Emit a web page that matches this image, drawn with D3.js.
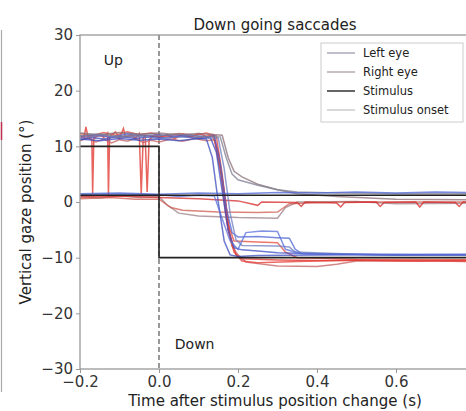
<!DOCTYPE html>
<html><head><meta charset="utf-8">
<script src="https://cdn.jsdelivr.net/npm/d3@7"></script>
<style>body{margin:0;background:#fff;} svg{display:block;font-family:"DejaVu Sans",sans-serif;}</style>
</head><body>
<svg id="c" width="466" height="411"></svg>
<script>
const xTicks = [-0.2, 0.0, 0.2, 0.4, 0.6];
const yTicks = [-30, -20, -10, 0, 10, 20, 30];
const legendLabels = ["Left eye", "Right eye", "Stimulus", "Stimulus onset"];
const annotations = [{t:-0.14, v:25.5, text:"Up"}, {t:0.04, v:-25.5, text:"Down"}];

// Stimulus traces [time s, position °]
const stimulusA = [[-0.2,10],[0,10],[0,-10],[0.8,-10]];
const stimulusB = [[-0.2,1.2],[0.8,1.2]];

// Left eye trials
const leftEye1 = [[-0.2,11.2],[-0.17,11.6],[-0.14,11.3],[-0.1,11.8],[-0.06,11.4],[-0.02,11.7],[0.02,11.5],[0.06,11.8],[0.1,11.4],[0.13,11.6],[0.145,9],[0.16,2],[0.175,-5],[0.19,-8.2],[0.21,-8.6],[0.25,-8.8],[0.3,-9.1],[0.4,-9.3],[0.5,-9.4],[0.6,-9.5],[0.7,-9.5],[0.8,-9.6]];
const leftEye2 = [[-0.2,11.8],[-0.16,12.1],[-0.12,11.7],[-0.08,12.2],[-0.04,11.9],[0,12.1],[0.04,11.8],[0.08,12.0],[0.12,11.7],[0.14,11.9],[0.155,7],[0.17,-1],[0.185,-5.5],[0.2,-6.3],[0.25,-6.2],[0.3,-6.4],[0.33,-6.5],[0.345,-8.5],[0.36,-9.2],[0.45,-9.4],[0.6,-9.5],[0.8,-9.5]];
const leftEye3 = [[-0.2,11.5],[-0.15,11.9],[-0.1,11.6],[-0.05,11.8],[0,11.4],[0.05,11.7],[0.1,11.5],[0.15,11.5],[0.165,6],[0.18,-2],[0.195,-6.8],[0.21,-7.8],[0.3,-7.9],[0.33,-8.1],[0.345,-9],[0.5,-9.4],[0.8,-9.6]];
const leftEye4 = [[-0.2,11.9],[-0.15,12.2],[-0.1,11.8],[-0.05,12.1],[0,11.9],[0.05,12.2],[0.1,11.8],[0.155,11.7],[0.17,8],[0.185,5],[0.2,4],[0.25,3],[0.3,2.2],[0.35,1.8],[0.45,1.6],[0.6,1.5],[0.8,1.5]];
const leftEye5 = [[-0.2,11.3],[-0.15,11.0],[-0.1,11.4],[-0.05,11.1],[0,11.3],[0.05,11.0],[0.1,11.4],[0.12,11.3],[0.135,8],[0.15,0],[0.165,-7],[0.18,-9.5],[0.2,-9.8],[0.25,-9.6],[0.4,-9.5],[0.8,-9.4]];
const leftEye6 = [[-0.2,1.3],[-0.1,1.4],[0,1.3],[0.05,1.0],[0.1,1.2],[0.14,1.1],[0.16,-3],[0.18,-7],[0.2,-8.5],[0.22,-5.5],[0.26,-5.2],[0.3,-5.3],[0.32,-8.5],[0.36,-9.3],[0.5,-9.4],[0.8,-9.5]];
const leftEye7 = [[-0.2,1.5],[-0.1,1.6],[0,1.4],[0.1,1.6],[0.2,1.5],[0.3,1.7],[0.4,1.6],[0.5,1.8],[0.6,1.6],[0.7,1.8],[0.8,1.7]];
const leftEyeTrials = [leftEye1, leftEye2, leftEye3, leftEye4, leftEye5, leftEye6, leftEye7];

// Right eye trials
const rightEye1 = [[-0.2,12],[-0.19,11.5],[-0.185,13.5],[-0.18,11.8],[-0.17,11.2],[-0.168,1.5],[-0.165,11.4],[-0.15,12.2],[-0.14,11.6],[-0.13,12.4],[-0.128,1.2],[-0.125,11.8],[-0.11,12.6],[-0.1,11.5],[-0.09,13.2],[-0.085,11.7],[-0.07,12.1],[-0.06,11.4],[-0.05,12.3],[-0.045,1.5],[-0.04,11.5],[-0.035,11.9],[-0.03,1.8],[-0.025,11.2],[-0.01,12.0],[0.0,11.6],[0.02,12.1],[0.04,11.4],[0.06,12.2],[0.08,11.7],[0.1,12.3],[0.12,11.8],[0.135,12.1],[0.15,9],[0.165,2],[0.18,-6],[0.195,-9.5],[0.21,-10.2],[0.25,-10.3],[0.3,-10.4],[0.4,-10.5],[0.5,-10.5],[0.6,-10.6],[0.7,-10.6],[0.8,-10.7]];
const rightEye2 = [[-0.2,11.0],[-0.18,11.5],[-0.16,10.8],[-0.14,11.3],[-0.12,10.6],[-0.1,11.2],[-0.08,10.9],[-0.06,11.4],[-0.04,10.7],[-0.02,11.1],[0,10.8],[0.03,11.3],[0.06,10.9],[0.09,11.4],[0.12,11.0],[0.14,11.2],[0.155,6],[0.17,-3],[0.185,-8],[0.2,-9.5],[0.22,-10.8],[0.3,-11.5],[0.4,-11.6],[0.45,-11.2],[0.5,-10.6],[0.6,-10.5],[0.8,-10.5]];
const rightEye3 = [[-0.2,12.3],[-0.17,11.9],[-0.14,12.5],[-0.11,12.0],[-0.08,12.6],[-0.05,12.1],[-0.02,12.4],[0.01,11.9],[0.05,12.3],[0.09,12.0],[0.12,12.4],[0.145,11.9],[0.16,5],[0.175,-4],[0.19,-7],[0.25,-7.2],[0.3,-7.3],[0.32,-9],[0.35,-10],[0.5,-10.3],[0.8,-10.4]];
const rightEye4 = [[-0.2,12.4],[-0.15,12.1],[-0.1,12.5],[-0.05,12.2],[0,12.4],[0.05,12.1],[0.1,12.3],[0.16,12],[0.175,8],[0.19,5.5],[0.21,4.5],[0.25,3.2],[0.3,2.2],[0.35,1.5],[0.45,1.0],[0.6,0.5],[0.8,0.4]];
const rightEye5 = [[-0.2,1.0],[-0.15,0.7],[-0.1,1.1],[-0.05,0.8],[0,1.0],[0.02,-0.5],[0.05,-2],[0.1,-2.5],[0.2,-2.8],[0.3,-2.9],[0.32,-1],[0.35,0],[0.5,0.1],[0.6,-0.3],[0.8,-0.2]];
const rightEye6 = [[-0.2,0.6],[-0.12,0.8],[-0.06,0.5],[0,0.5],[0.03,-1],[0.06,-1.5],[0.15,-1.8],[0.25,-1.9],[0.3,-1.8],[0.33,-0.3],[0.45,0],[0.8,0]];
const rightEye7 = [[-0.2,11.6],[-0.15,11.9],[-0.1,11.5],[-0.05,12.0],[0,11.7],[0.05,11.9],[0.1,11.6],[0.14,11.8],[0.16,4],[0.175,-5],[0.19,-9],[0.21,-10.6],[0.25,-10.9],[0.35,-10.7],[0.5,-10.4],[0.65,-10.6],[0.8,-10.5]];
const rightEye8 = [[-0.2,0.9],[-0.1,1.1],[0,0.8],[0.1,0.6],[0.2,0.2],[0.25,-0.6],[0.26,0],[0.35,-0.1],[0.36,-0.8],[0.37,0],[0.45,-0.2],[0.46,-0.9],[0.47,-0.1],[0.55,0],[0.56,-0.8],[0.57,-0.1],[0.65,0],[0.66,-0.9],[0.67,0],[0.75,-0.1],[0.76,-0.8],[0.77,0],[0.8,0]];
const rightEyeTrials = [rightEye1, rightEye2, rightEye3, rightEye4, rightEye5, rightEye6, rightEye7, rightEye8];

// styles
const leftColors = ["#3b4cc0","#4a63d3","#6f7fbf","#7d7d90","#3b4cc0","#5a6fd8","#4a63d3"];
const rightColors = ["#e0302a","#c46060","#e64a3b","#8a6f78","#9a7f86","#d05a50","#e53a30","#d42a2a"];

const svg = d3.select("#c");
const L = 80, R = 475, T = 35, B = 369;
const x = d3.scaleLinear().domain([-0.2, 0.8]).range([L, R]);
const y = d3.scaleLinear().domain([-30, 30]).range([B, T]);

// partial neighbouring panel edge
svg.append("line").attr("x1",1.5).attr("x2",1.5).attr("y1",30).attr("y2",392).attr("stroke","#aaa").attr("stroke-width",1.2);
svg.append("line").attr("x1",1.5).attr("x2",1.5).attr("y1",122).attr("y2",140).attr("stroke","#c03050").attr("stroke-width",1.5);

svg.append("defs").append("clipPath").attr("id","clip").append("rect")
  .attr("x",L).attr("y",T).attr("width",R-L).attr("height",B-T);

const line = d3.line().x(d => x(d[0])).y(d => y(d[1]));
const g = svg.append("g").attr("clip-path","url(#clip)");

// onset
g.append("line").attr("x1",x(0)).attr("x2",x(0)).attr("y1",T).attr("y2",B)
  .attr("stroke","#555").attr("stroke-width",1.2).attr("stroke-dasharray","5,3");

rightEyeTrials.forEach((tr,i) => g.append("path").attr("d",line(tr)).attr("fill","none")
  .attr("stroke",rightColors[i]).attr("stroke-width",1.5).attr("stroke-opacity",0.75));
leftEyeTrials.forEach((tr,i) => g.append("path").attr("d",line(tr)).attr("fill","none")
  .attr("stroke",leftColors[i]).attr("stroke-width",1.5).attr("stroke-opacity",0.75));

[stimulusA, stimulusB].forEach(s => g.append("path").attr("d",line(s)).attr("fill","none")
  .attr("stroke","#222").attr("stroke-width",1.6));

// spines
svg.append("rect").attr("x",L).attr("y",T).attr("width",R-L).attr("height",B-T)
  .attr("fill","none").attr("stroke","#999").attr("stroke-width",1.3);

const fmtX = d => d3.format(".1f")(d).replace("-","−");
const xa = svg.append("g").attr("transform",`translate(0,${B})`)
  .call(d3.axisBottom(x).tickValues(xTicks).tickFormat(fmtX).tickSize(4).tickPadding(3));
const ya = svg.append("g").attr("transform",`translate(${L},0)`)
  .call(d3.axisLeft(y).tickValues(yTicks).tickSize(4).tickPadding(3));
[xa, ya].forEach(a => {
  a.select(".domain").remove();
  a.selectAll("line").attr("stroke","#999");
  a.selectAll("text").attr("fill","#333").style("font-size","15px").style("font-family","DejaVu Sans");
});

svg.append("text").attr("x",275).attr("y",30).attr("text-anchor","middle")
  .style("font-size","15px").attr("fill","#222").text("Down going saccades");
svg.append("text").attr("x",275).attr("y",406).attr("text-anchor","middle")
  .style("font-size","15px").attr("fill","#222").text("Time after stimulus position change (s)");
svg.append("text").attr("transform","translate(31,212) rotate(-90)").attr("text-anchor","middle")
  .style("font-size","15px").attr("fill","#222").text("Vertical gaze position (°)");

annotations.forEach(a => svg.append("text").attr("x",x(a.t)).attr("y",y(a.v)).attr("dy","0.35em")
  .style("font-size","14px").attr("fill","#222").text(a.text));

// legend
const lg = svg.append("g");
lg.append("rect").attr("x",321).attr("y",43).attr("width",142).attr("height",79)
  .attr("fill","#fff").attr("fill-opacity",0.8).attr("stroke","#ccc").attr("stroke-width",1);
const legendColors = ["#8a8aa0","#a08a8a","#333","#bbb"];
legendLabels.forEach((lab,i) => {
  const yy = 53 + i*19;
  lg.append("line").attr("x1",327).attr("x2",355).attr("y1",yy).attr("y2",yy)
    .attr("stroke",legendColors[i]).attr("stroke-width",i===2?1.5:1.1);
  lg.append("text").attr("x",363).attr("y",yy).attr("dy","0.35em")
    .style("font-size","11.5px").attr("fill","#222").text(lab);
});
</script>
</body></html>
